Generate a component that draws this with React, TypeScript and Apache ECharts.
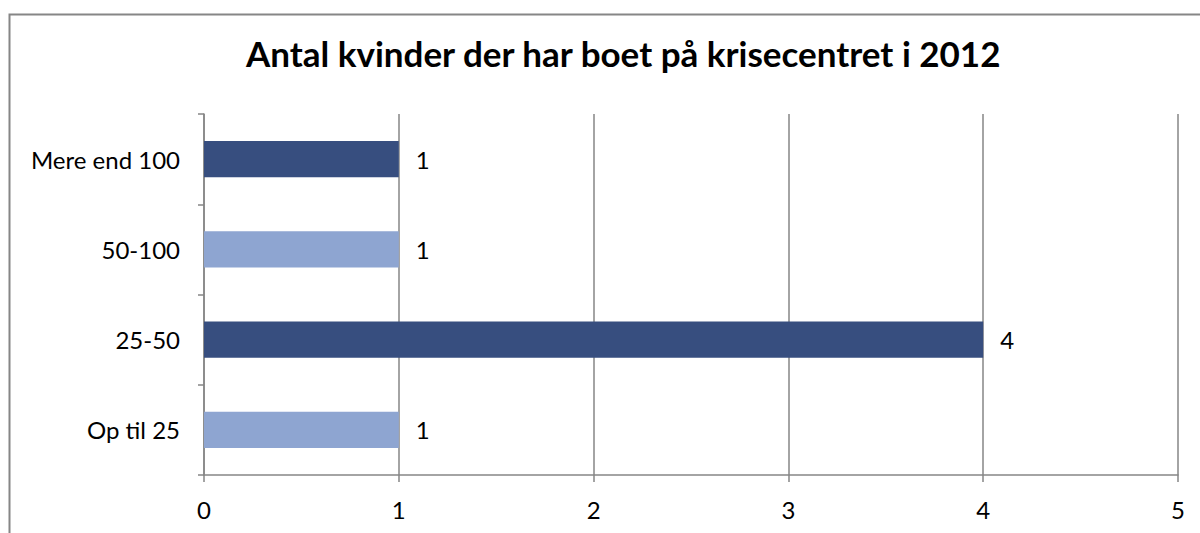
import React, { useEffect, useRef } from "react";
import * as echarts from "echarts";

const titleText = "Antal kvinder der har boet på krisecentret i 2012";
const categories = ["Op til 25", "25-50", "50-100", "Mere end 100"];
const values = [1, 4, 1, 1];
const barColors = ["#8EA5D1", "#374E7F", "#8EA5D1", "#374E7F"];
const xTicks = { min: 0, max: 5, interval: 1 };

const FONT = "Lato, 'Liberation Sans', sans-serif";

export default function App() {
  const ref = useRef<HTMLDivElement>(null);
  useEffect(() => {
    if (!ref.current) return;
    const chart = echarts.init(ref.current, null, { renderer: "svg" });
    chart.setOption({
      animation: false,
      backgroundColor: "#ffffff",
      title: {
        text: titleText,
        left: 241,
        top: 30,
        textStyle: { fontFamily: FONT, fontWeight: "bold", fontSize: 35, color: "#000" },
      },
      graphic: [
        {
          type: "polyline",
          shape: { points: [[9.5, 540], [9.5, 14.5], [1210, 14.5]] },
          style: { stroke: "#868686", lineWidth: 2, fill: null },
          z: 100,
        },
      ],
      grid: { left: 204, right: 22, top: 114, bottom: 58 },
      xAxis: {
        type: "value",
        min: xTicks.min,
        max: xTicks.max,
        interval: xTicks.interval,
        axisLine: { show: true, lineStyle: { color: "#868686", width: 1.5 } },
        axisTick: { show: true, length: 7, lineStyle: { color: "#868686", width: 1.5 } },
        splitLine: { show: true, lineStyle: { color: "#868686", width: 1.5 } },
        axisLabel: { fontFamily: FONT, fontSize: 24, color: "#000", margin: 22 },
      },
      yAxis: {
        type: "category",
        data: categories,
        axisLine: { show: true, lineStyle: { color: "#868686", width: 1.5 } },
        axisTick: { show: true, length: 6, lineStyle: { color: "#868686", width: 1.5 } },
        axisLabel: { fontFamily: FONT, fontSize: 24, color: "#000", margin: 24 },
      },
      series: [
        {
          type: "bar",
          data: values.map((v, i) => ({ value: v, itemStyle: { color: barColors[i] } })),
          barWidth: "40%",
          label: {
            show: true,
            position: "right",
            distance: 17,
            fontFamily: FONT,
            fontSize: 24,
            color: "#000",
          },
        },
      ],
    });
    return () => chart.dispose();
  }, []);
  return (
    <div
      ref={ref}
      style={{ position: "absolute", left: 0, top: 0, width: 1200, height: 533 }}
    />
  );
}
